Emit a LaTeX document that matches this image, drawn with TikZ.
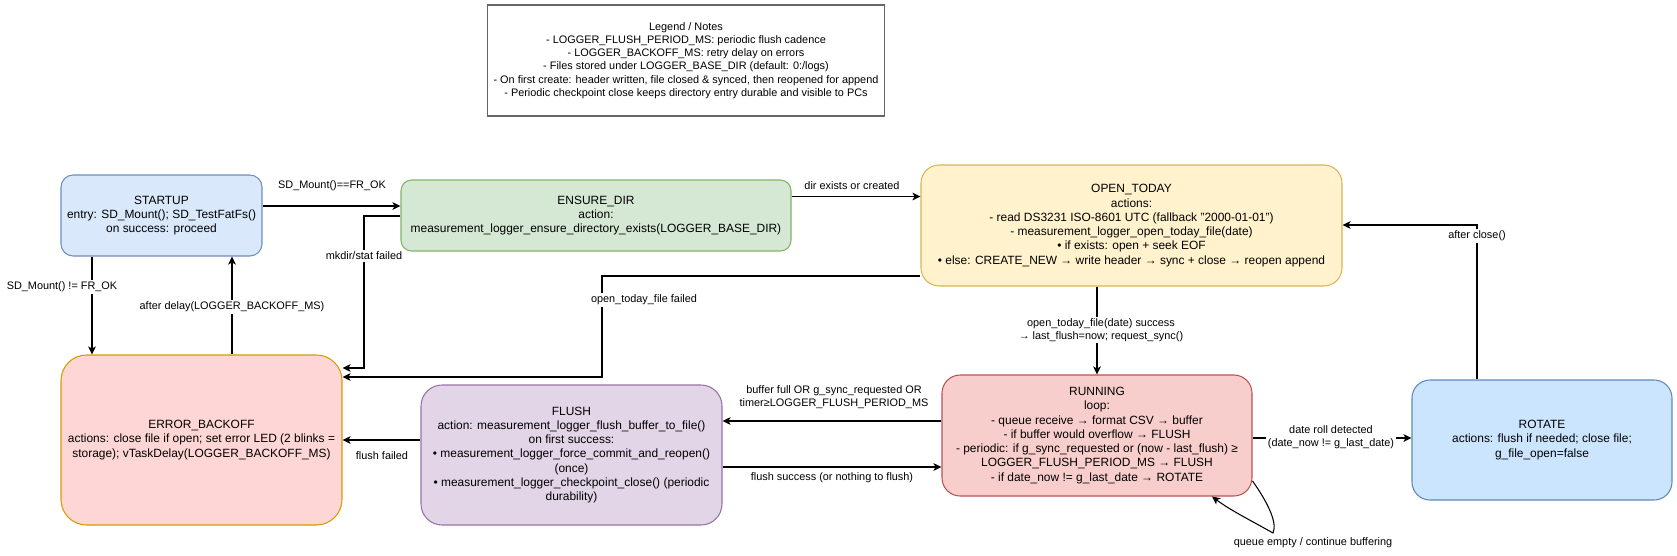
\documentclass[tikz,border=0pt]{standalone}
\usepackage{fontspec}
\setmainfont{Liberation Sans}
\usetikzlibrary{arrows.meta, positioning}

\definecolor{startfill}{HTML}{DAE8FC}
\definecolor{startdraw}{HTML}{6C8EBF}
\definecolor{dirfill}{HTML}{D5E8D4}
\definecolor{dirdraw}{HTML}{82B366}
\definecolor{openfill}{HTML}{FFF2CC}
\definecolor{opendraw}{HTML}{D6B656}
\definecolor{errfill}{HTML}{FFD6D6}
\definecolor{errdraw}{HTML}{D79B00}
\definecolor{flushfill}{HTML}{E1D5E7}
\definecolor{flushdraw}{HTML}{9673A6}
\definecolor{runfill}{HTML}{F8CECC}
\definecolor{rundraw}{HTML}{B85450}
\definecolor{rotfill}{HTML}{CCE5FF}
\definecolor{rotdraw}{HTML}{5E88BD}

\begin{document}
\begin{tikzpicture}[
  x=0.02cm, y=-0.02cm,
  line width=0.6pt,
  box/.style 2 args={draw, rectangle, align=center,
    minimum width=#1*0.02cm, minimum height=#2*0.02cm,
    rounded corners=#2*0.003cm, font=\fontsize{6.8}{8.1}\selectfont},
  lbl/.style={font=\fontsize{6.2}{7.2}\selectfont, align=center, fill=white, inner sep=1pt},
  arr/.style={-{Stealth[length=4.6pt,width=4.4pt,inset=1.2pt]}}]

  \useasboundingbox (0,0) rectangle (1677,555);

  % legend
  \node[draw=black!60, line width=0.8pt, minimum width=392*0.02cm, minimum height=111*0.02cm,
    align=center, font=\fontsize{6.2}{7.5}\selectfont] (legend) at (686,60.5)
    {Legend / Notes\\
     - LOGGER\_FLUSH\_PERIOD\_MS: periodic flush cadence\\
     - LOGGER\_BACKOFF\_MS: retry delay on errors\\
     - Files stored under LOGGER\_BASE\_DIR (default: 0:/logs)\\
     - On first create: header written, file closed \& synced, then reopened for append\\
     - Periodic checkpoint close keeps directory entry durable and visible to PCs};

  % states
  \node[box={201}{81}, fill=startfill, draw=startdraw] (startup) at (161.5,215.5)
    {STARTUP\\entry: SD\_Mount(); SD\_TestFatFs()\\on success: proceed};
  \node[box={390}{71}, fill=dirfill, draw=dirdraw] (ensuredir) at (596,215.5)
    {ENSURE\_DIR\\action:\\measurement\_logger\_ensure\_directory\_exists(LOGGER\_BASE\_DIR)};
  \node[box={421}{121}, fill=openfill, draw=opendraw] (opentoday) at (1131.5,225.5)
    {OPEN\_TODAY\\actions:\\- read DS3231 ISO-8601 UTC (fallback "2000-01-01")\\
     - measurement\_logger\_open\_today\_file(date)\\• if exists: open + seek EOF\\
     • else: CREATE\_NEW → write header → sync + close → reopen append};
  \node[box={281}{170}, fill=errfill, draw=errdraw] (errorbackoff) at (201.5,440)
    {ERROR\_BACKOFF\\actions: close file if open; set error LED (2 blinks =\\
     storage); vTaskDelay(LOGGER\_BACKOFF\_MS)};
  \node[box={301}{140}, fill=flushfill, draw=flushdraw] (flush) at (571.5,455)
    {FLUSH\\action: measurement\_logger\_flush\_buffer\_to\_file()\\on first success:\\
     • measurement\_logger\_force\_commit\_and\_reopen()\\(once)\\
     • measurement\_logger\_checkpoint\_close() (periodic\\durability)};
  \node[box={310}{121}, fill=runfill, draw=rundraw] (running) at (1097,435.5)
    {RUNNING\\loop:\\- queue receive → format CSV → buffer\\- if buffer would overflow → FLUSH\\
     - periodic: if g\_sync\_requested or (now - last\_flush) ≥\\
     LOGGER\_FLUSH\_PERIOD\_MS → FLUSH\\- if date\_now != g\_last\_date → ROTATE};
  \node[box={260}{120}, fill=rotfill, draw=rotdraw] (rotate) at (1542,440)
    {ROTATE\\actions: flush if needed; close file;\\g\_file\_open=false};

  % transitions
  \draw[arr] (startup.east |- 0,206) -- (ensuredir.west |- 0,206)
    node[lbl] (lmountok) at (332,186) {SD\_Mount()==FR\_OK};
  \draw[arr] (startup.south -| 92,0) -- (errorbackoff.north -| 92,0)
    node[lbl] (lmountfail) at (62,287) {SD\_Mount() != FR\_OK};
  \draw[arr] (errorbackoff.north -| 232,0) -- (startup.south -| 232,0)
    node[lbl] (ldelay) at (232,307) {after delay(LOGGER\_BACKOFF\_MS)};
  \draw[arr] (ensuredir.west |- 0,216) -| (364,368) -- (errorbackoff.east |- 0,368)
    node[lbl] (lmkdir) at (364,256) {mkdir/stat failed};
  \draw[arr] (ensuredir.east |- 0,196.5) -- (opentoday.west |- 0,196.5)
    node[lbl] (ldirok) at (852,186) {dir exists or created};
  \draw[arr] (opentoday.west |- 0,276) -| (602,377) -- (errorbackoff.east |- 0,377)
    node[lbl] (lopenfail) at (644,300) {open\_today\_file failed};
  \draw[arr] (opentoday.south -| 1097,0) -- (running.north -| 1097,0)
    node[lbl] (lopenok) at (1101,330) {open\_today\_file(date) success\\→ last\_flush=now; request\_sync()};
  \draw[arr] (running.west |- 0,421) -- (flush.east |- 0,421)
    node[lbl] (lneedflush) at (834,397) {buffer full OR g\_sync\_requested OR\\timer≥LOGGER\_FLUSH\_PERIOD\_MS};
  \draw[arr] (flush.east |- 0,467) -- (running.west |- 0,467)
    node[lbl] (lflushok) at (832,478) {flush success (or nothing to flush)};
  \draw[arr] (flush.west |- 0,440) -- (errorbackoff.east |- 0,440)
    node[lbl] (lflushfail) at (382,456) {flush failed};
  \draw[arr] (running.east |- 0,438) -- (rotate.west |- 0,438)
    node[lbl] (ldateroll) at (1331,437) {date roll detected\\(date\_now != g\_last\_date)};
  \draw[arr] (rotate.north -| 1477,0) |- (opentoday.east |- 0,225)
    node[lbl] (lclosed) at (1477,236) {after close()};
  \draw[arr] (running.east |- 0,481) .. controls (1266,500) and (1278,522) .. (1273,533)
    .. controls (1250,520) and (1230,510) .. (running.south -| 1212,0)
    node[lbl, fill=none] (lqempty) at (1313,543) {queue empty / continue buffering};
\end{tikzpicture}
\end{document}
